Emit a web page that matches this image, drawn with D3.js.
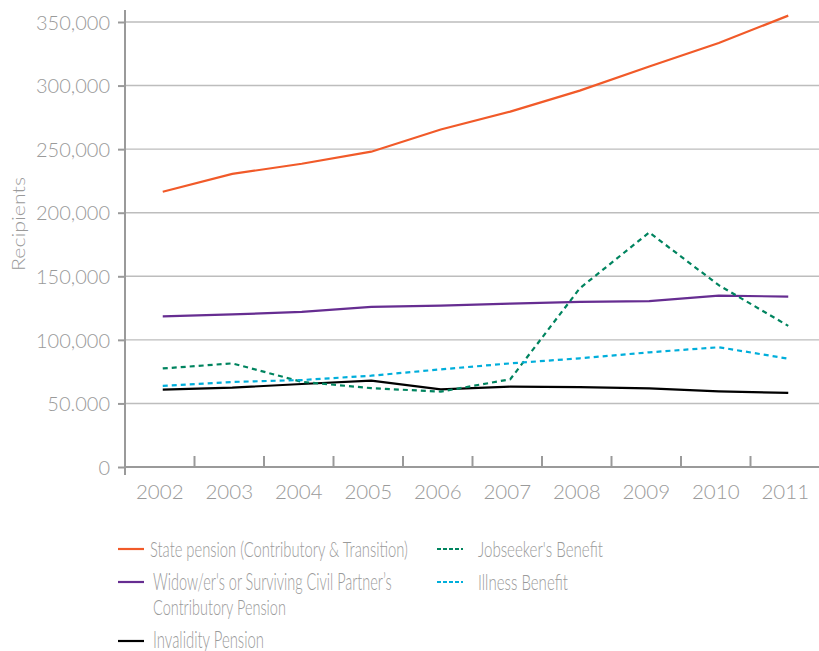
<!DOCTYPE html>
<html><head><meta charset="utf-8">
<script src="https://cdn.jsdelivr.net/npm/d3@7/dist/d3.min.js"></script>
<style>
body{margin:0;background:#fff;}
svg{display:block;font-family:Lato,"Open Sans",sans-serif;font-weight:300;}
</style></head>
<body><svg id="c" width="819" height="651"></svg>
<script>
const years = ["2002","2003","2004","2005","2006","2007","2008","2009","2010","2011"];
const statePension = [216500,230500,238500,248000,265500,279500,296000,315000,333500,355000];
const widowPension = [118500,120000,122000,126000,127000,128500,129800,130500,134800,134000];
const invalidityPension = [60800,62400,65300,68000,61000,63200,62900,61900,59500,58300];
const jobseekers = [77500,81500,67000,62000,59300,69000,140500,184500,143000,111000];
const illness = [63800,66900,68400,71800,76800,81500,85500,90200,94200,85200];
const yTicks = [0,50000,100000,150000,200000,250000,300000,350000];
const yTickLabels = ["0","50.000","100,000","150,000","200,000","250,000","300,000","350,000"];

const series = [
  {name:"State pension (Contributory & Transition)", values:statePension, color:"#F15A29", dash:null},
  {name:"Widow/er's or Surviving Civil Partner's Contributory Pension", values:widowPension, color:"#662D91", dash:null},
  {name:"Invalidity Pension", values:invalidityPension, color:"#000000", dash:null},
  {name:"Jobseeker's Benefit", values:jobseekers, color:"#00845F", dash:"5,4"},
  {name:"Illness Benefit", values:illness, color:"#00AEDB", dash:"5,4"}
];

const svg = d3.select("#c");
const gray = "#9a9a9a";
const x = d3.scaleBand().domain(years).range([125,820]).padding(0);
const y = d3.scaleLinear().domain([0,350000]).range([467,22]);
const px = d => x(d) + x.bandwidth()/2 + 3;

// gridlines
svg.append("g").selectAll("line").data(yTicks.slice(1)).join("line")
  .attr("x1",125).attr("x2",819).attr("y1",d=>y(d)).attr("y2",d=>y(d))
  .attr("stroke","#bdbdbd").attr("stroke-width",1.4);

// y axis
const yAxis = d3.axisLeft(y).tickValues(yTicks).tickSize(7).tickPadding(8)
  .tickFormat((d,i)=>yTickLabels[i]);
const gy = svg.append("g").attr("transform","translate(125,0)").call(yAxis);
gy.select(".domain").remove();
gy.selectAll(".tick line").attr("stroke",gray).attr("stroke-width",2);
gy.selectAll(".tick text").attr("fill",gray).attr("font-size",20)
  .attr("font-family","Lato,sans-serif").attr("font-weight",300).attr("dy","0.36em");
svg.append("line").attr("x1",125).attr("x2",125).attr("y1",10).attr("y2",475)
  .attr("stroke",gray).attr("stroke-width",2);

// x axis
const xAxis = d3.axisBottom(x).tickSize(0).tickPadding(0);
const gx = svg.append("g").attr("transform","translate(0,467)").call(xAxis);
gx.select(".domain").remove();
gx.selectAll(".tick text").attr("fill",gray).attr("font-size",20.5)
  .attr("font-family","Lato,sans-serif").attr("font-weight",300)
  .attr("dy",null).attr("y",32);
svg.append("line").attr("x1",124).attr("x2",819).attr("y1",467).attr("y2",467)
  .attr("stroke",gray).attr("stroke-width",2);
svg.append("g").selectAll("line").data(years).join("line")
  .attr("x1",d=>x(d)+x.bandwidth()).attr("x2",d=>x(d)+x.bandwidth())
  .attr("y1",467).attr("y2",456).attr("stroke",gray).attr("stroke-width",2);

// fit a text horizontally to a target width using a scale transform
function fitText(sel, tx, ty, w, rot) {
  const nat = sel.node().getComputedTextLength();
  const k = w / nat;
  sel.attr("transform", `translate(${tx},${ty})` + (rot ? ` rotate(${rot})` : "") + ` scale(${k},1)`);
}

// y title
const yt = svg.append("text").attr("text-anchor","middle").attr("fill",gray)
  .attr("font-size",18.5).text("Recipients");
fitText(yt, 25, 224, 94, -90);

// lines
const line = d3.line().x((d,i)=>px(years[i])).y(d=>y(d));
svg.append("g").selectAll("path").data(series).join("path")
  .attr("d",d=>line(d.values)).attr("fill","none")
  .attr("stroke",d=>d.color).attr("stroke-width",2.2)
  .attr("stroke-dasharray",d=>d.dash);

// legend
const legend = [
  {s:0, lx:118, ly:549, tx:150, lines:[{t:"State pension (Contributory & Transition)",b:556.5,w:258}]},
  {s:1, lx:118, ly:582, tx:153, lines:[{t:"Widow/er's or Surviving Civil Partner’s",b:589.5,w:239}]},
  {s:1, lx:null, ly:null, tx:153, lines:[{t:"Contributory Pension",b:614.5,w:133}]},
  {s:2, lx:118, ly:641, tx:153, lines:[{t:"Invalidity Pension",b:647.5,w:111}]},
  {s:3, lx:437, ly:549, tx:478, lines:[{t:"Jobseeker's Benefit",b:556.5,w:125}]},
  {s:4, lx:437, ly:582, tx:478, lines:[{t:"Illness Benefit",b:589.5,w:90}]}
];
const lg = svg.append("g");
legend.forEach(L=>{
  const s = series[L.s];
  if (L.lx !== null) {
    lg.append("line").attr("x1",L.lx).attr("x2",L.lx+26).attr("y1",L.ly).attr("y2",L.ly)
      .attr("stroke",s.color).attr("stroke-width",2.2)
      .attr("stroke-dasharray",s.dash?"4,2":null);
  }
  L.lines.forEach(t=>{
    const el = lg.append("text").attr("fill",gray).attr("font-size",22.5).text(t.t);
    fitText(el, L.tx, t.b, t.w);
  });
});
</script></body></html>
